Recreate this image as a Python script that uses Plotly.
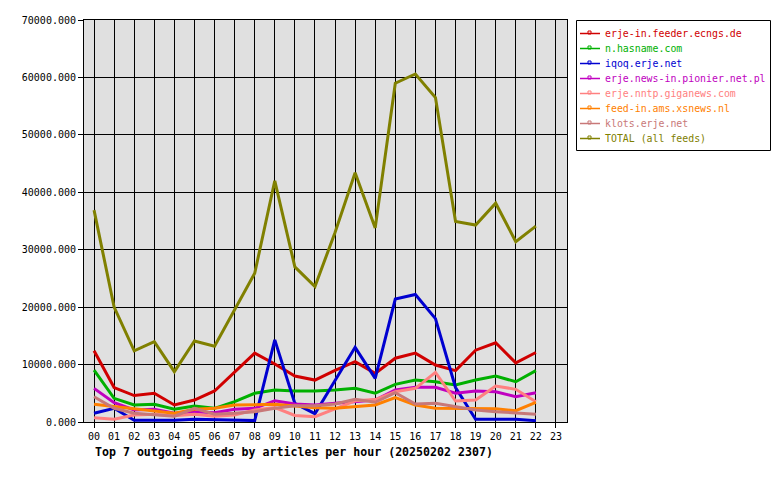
import plotly.graph_objects as go

hours = [f"{h:02d}" for h in range(24)]
x_vals = list(range(23))

names = [
    "erje-in.feeder.ecngs.de",
    "n.hasname.com",
    "iqoq.erje.net",
    "erje.news-in.pionier.net.pl",
    "erje.nntp.giganews.com",
    "feed-in.ams.xsnews.nl",
    "klots.erje.net",
    "TOTAL (all feeds)",
]
colors = ["#d00000", "#00b000", "#0000d0", "#c000c0", "#ff8080", "#ff8000", "#c87878", "#808000"]

feeder = [12400, 6000, 4600, 5000, 2960, 3830, 5400, 8760, 12000, 10100, 8000, 7300,
          9000, 10500, 8470, 11100, 12000, 9920, 8940, 12500, 13800, 10300, 12100]
hasname = [9050, 4120, 2960, 3080, 2210, 2790, 2380, 3540, 5000, 5570, 5400, 5400,
           5570, 5860, 5000, 6560, 7300, 7020, 6440, 7300, 8000, 7020, 8940]
iqoq = [1510, 2380, 300, 300, 300, 470, 400, 250, 250, 14300, 3250, 1450,
        7300, 13000, 7600, 21400, 22200, 18000, 6000, 470, 470, 470, 230]
pionier = [5860, 3360, 2090, 2210, 1510, 1800, 1620, 2210, 2380, 3710, 3130, 2960,
           3250, 3540, 3830, 5570, 6040, 6040, 5000, 5400, 5280, 4400, 5100]
giganews = [750, 500, 1220, 1340, 1100, 1340, 1000, 1220, 2090, 2500, 1150, 920,
            2300, 3700, 3900, 5280, 5860, 8650, 3650, 3830, 6270, 5690, 3540]
xsnews = [3080, 2670, 2210, 1800, 1510, 2210, 2380, 2960, 3080, 3080, 2800, 2490,
          2380, 2670, 2960, 4230, 2960, 2380, 2380, 2380, 2300, 1970, 3430]
klots = [4400, 2380, 1510, 1220, 1000, 2380, 1340, 1510, 1800, 2380, 2840, 2840,
         3130, 3950, 3430, 5100, 3130, 3250, 2670, 2090, 1800, 1510, 1340]
total = [36900, 20000, 12400, 14000, 8760, 14100, 13200, 19500, 25900, 42000, 27000, 23600,
         33000, 43400, 33800, 59000, 60600, 56500, 34900, 34300, 38100, 31400, 34100]

series = [feeder, hasname, iqoq, pionier, giganews, xsnews, klots, total]
y_ticks = [0, 10000, 20000, 30000, 40000, 50000, 60000, 70000]
title_text = "Top 7 outgoing feeds by articles per hour (20250202 2307)"

MONO = "DejaVu Sans Mono"

# layout geometry (pixels)
W, H = 780, 480
L, R, T, B = 84, 213, 20, 58
PW = W - L - R
PH = H - T - B


def px(xp):
    return (xp - L) / PW


def py(yp):
    return (H - B - yp) / PH


fig = go.Figure()
for name, col, ys in zip(names, colors, series):
    fig.add_trace(go.Scatter(
        x=x_vals, y=ys, name=name, mode="lines",
        line=dict(color=col, width=3),
    ))

fig.update_layout(
    width=W, height=H,
    margin=dict(l=L, r=R, t=T, b=B),
    paper_bgcolor="white",
    plot_bgcolor="#e0e0e0",
    font=dict(family=MONO, size=10, color="black"),
    showlegend=False,
    xaxis=dict(
        range=[-0.5, 23.55],
        tickmode="array", tickvals=list(range(24)), ticktext=hours,
        showgrid=True, gridcolor="black", gridwidth=1,
        showline=True, linecolor="black", linewidth=1, mirror=True,
        ticks="outside", ticklen=5, tickcolor="black",
        zeroline=False,
        tickfont=dict(family=MONO, size=10),
    ),
    yaxis=dict(
        range=[0, 70000],
        tickmode="array", tickvals=y_ticks,
        ticktext=[f"{v:.3f}" for v in y_ticks],
        showgrid=True, gridcolor="black", gridwidth=1,
        showline=True, linecolor="black", linewidth=1, mirror=True,
        ticks="outside", ticklen=5, tickcolor="black",
        zeroline=False,
        tickfont=dict(family=MONO, size=10),
    ),
)

fig.add_annotation(
    x=px(93), y=py(452), xref="paper", yref="paper",
    xanchor="left", yanchor="middle",
    text=f"<b>{title_text}</b>",
    showarrow=False, font=dict(family=MONO, size=11.6, color="black"),
)

# legend box
shapes = [dict(type="rect", xref="paper", yref="paper",
               x0=px(576.5), x1=px(770.5), y0=py(20.5), y1=py(150.5),
               line=dict(color="black", width=1), fillcolor="white", layer="above")]
for i, (name, col) in enumerate(zip(names, colors)):
    yy = 33.5 + 15 * i
    shapes.append(dict(type="line", xref="paper", yref="paper",
                       x0=px(580), x1=px(600), y0=py(yy), y1=py(yy),
                       line=dict(color=col, width=1.5), layer="above"))
    shapes.append(dict(type="rect", xref="paper", yref="paper",
                       x0=px(588), x1=px(591), y0=py(yy + 0.5), y1=py(yy - 2.5),
                       line=dict(color=col, width=1), fillcolor="rgba(0,0,0,0)", layer="above"))
    fig.add_annotation(
        x=px(603), y=py(yy), xref="paper", yref="paper",
        xanchor="left", yanchor="middle", text=name, showarrow=False,
        font=dict(family=MONO, size=9.9, color=col),
    )
fig.update_layout(shapes=shapes)

fig.write_html("out.html")
